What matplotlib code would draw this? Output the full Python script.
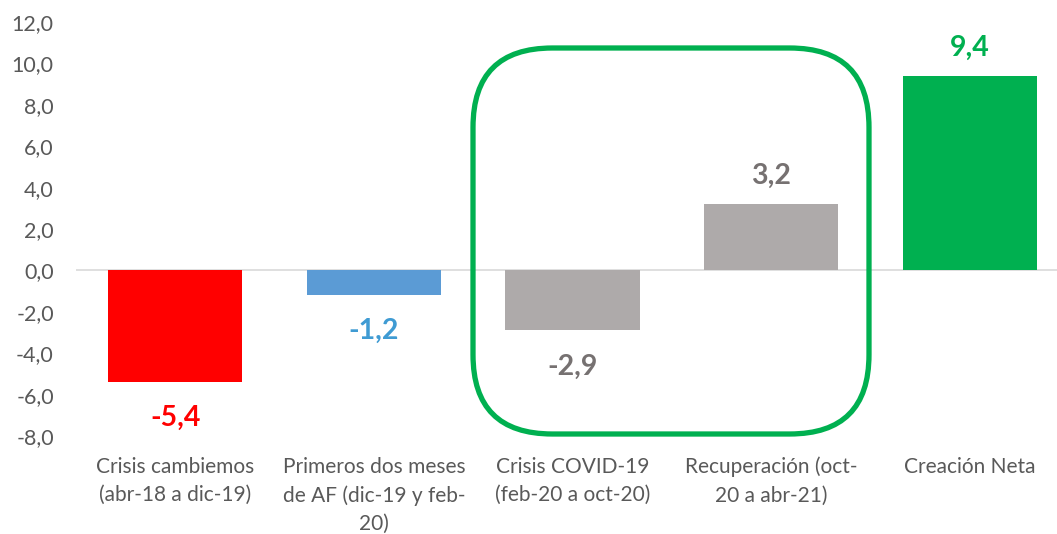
import matplotlib
matplotlib.use("Agg")
import matplotlib.pyplot as plt
from matplotlib.patches import FancyBboxPatch

# datos
categorias = ["Crisis cambiemos\n(abr-18 a dic-19)",
              "Primeros dos meses\nde AF (dic-19 y feb-\n20)",
              "Crisis COVID-19\n(feb-20 a oct-20)",
              "Recuperación (oct-\n20 a abr-21)",
              "Creación Neta"]
valores = [-5.4, -1.2, -2.9, 3.2, 9.4]
colores_barra = ["#FF0000", "#5B9BD5", "#AEAAAA", "#AEAAAA", "#00B050"]
colores_etiqueta = ["#FF0000", "#3F9BD3", "#767171", "#767171", "#00B050"]
yticks = [-8, -6, -4, -2, 0, 2, 4, 6, 8, 10, 12]

plt.rcParams["font.family"] = ["Lato", "DejaVu Sans"]

W, H = 1057, 534
fig = plt.figure(figsize=(W / 100, H / 100), dpi=100)
ax = fig.add_axes([76 / W, (H - 436) / H, 993 / W, 414 / H])

x = range(len(valores))
ax.bar(x, valores, width=0.675, color=colores_barra, zorder=2)
ax.axhline(0, color="#D9D9D9", lw=1.2, zorder=1)

ax.set_xlim(-0.5, 4.5)
ax.set_ylim(-8, 12)
ax.set_yticks(yticks)
ax.set_yticklabels([f"{v:.1f}".replace(".", ",") for v in yticks],
                   fontsize=15.5, color="#595959")
ax.set_xticks(list(x))
ax.set_xticklabels(categorias, fontsize=15, color="#595959", linespacing=1.5,
                   va="top")
ax.tick_params(axis="y", length=0, pad=16)
ax.tick_params(axis="x", length=0, pad=15)
for s in ax.spines.values():
    s.set_visible(False)

# etiquetas de datos
for i, v in enumerate(valores):
    off = 28 if v > 0 else -36
    ax.annotate(f"{v:.1f}".replace(".", ","), (i, v), xytext=(0, off),
                textcoords="offset pixels",
                ha="center", va="center", fontsize=20.5, fontweight="bold",
                color=colores_etiqueta[i])

# recuadro verde alrededor de la crisis COVID y recuperación
caja = FancyBboxPatch((473 / W, (H - 434) / H), (869 - 473) / W, (434 - 48) / H,
                      boxstyle="round,pad=0,rounding_size=0.075",
                      transform=fig.transFigure, fill=False,
                      edgecolor="#00B050", lw=3.8, mutation_aspect=W / H)
fig.patches.append(caja)

fig.savefig("out.png", dpi=100)
